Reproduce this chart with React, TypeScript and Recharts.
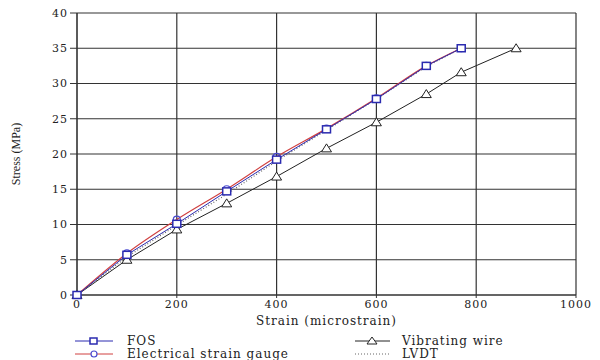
import React from 'react';
import { LineChart, Line, XAxis, YAxis, CartesianGrid } from 'recharts';

// strain points (microstrain)
const strainMain = [0, 100, 200, 300, 400, 500, 600, 700, 770];
const strainVw = [0, 100, 200, 300, 400, 500, 600, 700, 770, 880];

// stress (MPa)
const fosStress = [0, 5.7, 10.1, 14.7, 19.2, 23.5, 27.8, 32.5, 35];
const esgStress = [0, 5.9, 10.7, 15.0, 19.6, 23.6, 27.9, 32.5, 35];
const vwStress = [0, 5.0, 9.3, 13.0, 16.8, 20.8, 24.5, 28.5, 31.6, 35];
const lvdtStress = [0, 5.4, 9.9, 14.3, 19.0, 23.4, 27.8, 32.4, 35];

const xTicks = [0, 200, 400, 600, 800, 1000];
const yTicks = [0, 5, 10, 15, 20, 25, 30, 35, 40];

const toRows = (xs: number[], ys: number[]) => xs.map((x, i) => ({ x, y: ys[i] }));

const fosData = toRows(strainMain, fosStress);
const esgData = toRows(strainMain, esgStress);
const vwData = toRows(strainVw, vwStress);
const lvdtData = toRows(strainMain, lvdtStress);

const serif = '"DejaVu Serif", serif';
const tickStyle = { fontFamily: serif, fontSize: 11, fill: '#222', letterSpacing: 1 };

const SquareDot = (props: any) => {
    const { cx, cy, index } = props;
    if (cx == null || cy == null) return null;
    return <rect key={`sq-${index}`} x={cx - 4} y={cy - 3.5} width={8} height={7} fill="#fff" stroke="#2b2bb0" strokeWidth={1.5} />;
};

const DiamondDot = (props: any) => {
    const { cx, cy, index } = props;
    if (cx == null || cy == null) return null;
    return <circle key={`dm-${index}`} cx={cx} cy={cy} r={3.5} fill="none" stroke="#4a4ad0" strokeWidth={1.2} />;
};

const TriDot = (props: any) => {
    const { cx, cy, index } = props;
    if (cx == null || cy == null) return null;
    return (
        <polygon
            key={`tr-${index}`}
            points={`${cx},${cy - 4.5} ${cx - 5},${cy + 3.5} ${cx + 5},${cy + 3.5}`}
            fill="#fff"
            stroke="#222"
            strokeWidth={1}
        />
    );
};

const legendText = { fontFamily: serif, fontSize: 12, fill: '#222', letterSpacing: 1 };

const ChartLegend = () => (
    <svg width={600} height={30} style={{ position: 'absolute', left: 0, top: 330 }}>
        <line x1={75} x2={113} y1={11} y2={11} stroke="#2b2bb0" strokeWidth={1} />
        <rect x={90} y={8} width={7} height={6} fill="#fff" stroke="#2b2bb0" strokeWidth={1.5} />
        <text x={127} y={15} {...legendText}>FOS</text>

        <line x1={75} x2={113} y1={24} y2={24} stroke="#d04040" strokeWidth={1} />
        <circle cx={94} cy={24} r={3} fill="#fff" stroke="#4a4ad0" strokeWidth={1.2} />
        <text x={127} y={28} {...legendText}>Electrical strain gauge</text>

        <line x1={355} x2={390} y1={11} y2={11} stroke="#222" strokeWidth={1} />
        <polygon points="372,7 367,14 377,14" fill="#fff" stroke="#222" strokeWidth={1} />
        <text x={402} y={15} {...legendText}>Vibrating wire</text>

        <line x1={355} x2={390} y1={24} y2={24} stroke="#666" strokeWidth={1} strokeDasharray="1 2" />
        <text x={402} y={28} {...legendText}>LVDT</text>
    </svg>
);

export default function App() {
    return (
        <div style={{ position: 'absolute', left: 0, top: 0, width: 600, height: 360, background: '#fff' }}>
            <LineChart width={600} height={360} margin={{ top: 13, right: 24, left: 0, bottom: 0 }}>
                <CartesianGrid stroke="#333" strokeWidth={1.2} />
                <XAxis
                    type="number"
                    dataKey="x"
                    domain={[0, 1000]}
                    ticks={xTicks}
                    tick={tickStyle}
                    tickSize={3}
                    stroke="#333"
                    height={65}
                    allowDuplicatedCategory={false}
                    label={{ value: 'Strain (microstrain)', position: 'insideTop', offset: 21, style: { ...tickStyle, fontSize: 12 } }}
                />
                <YAxis
                    type="number"
                    domain={[0, 40]}
                    ticks={yTicks}
                    tick={tickStyle}
                    tickSize={7}
                    stroke="#333"
                    width={77}
                    label={{
                        value: 'Stress (MPa)',
                        angle: -90,
                        position: 'insideLeft',
                        offset: 16,
                        style: { fontFamily: '"Liberation Serif", serif', fontSize: 12, fill: '#222', textAnchor: 'middle' },
                    }}
                />
                <Line data={vwData} dataKey="y" type="linear" stroke="#222" strokeWidth={1} dot={TriDot} isAnimationActive={false} />
                <Line data={lvdtData} dataKey="y" type="linear" stroke="#666" strokeWidth={1.2} strokeDasharray="1 2" dot={false} isAnimationActive={false} />
                <Line data={esgData} dataKey="y" type="monotone" stroke="#d04040" strokeWidth={1.2} dot={DiamondDot} isAnimationActive={false} />
                <Line data={fosData} dataKey="y" type="linear" stroke="#2b2bb0" strokeWidth={1} dot={SquareDot} isAnimationActive={false} />
            </LineChart>
            <ChartLegend />
        </div>
    );
}
